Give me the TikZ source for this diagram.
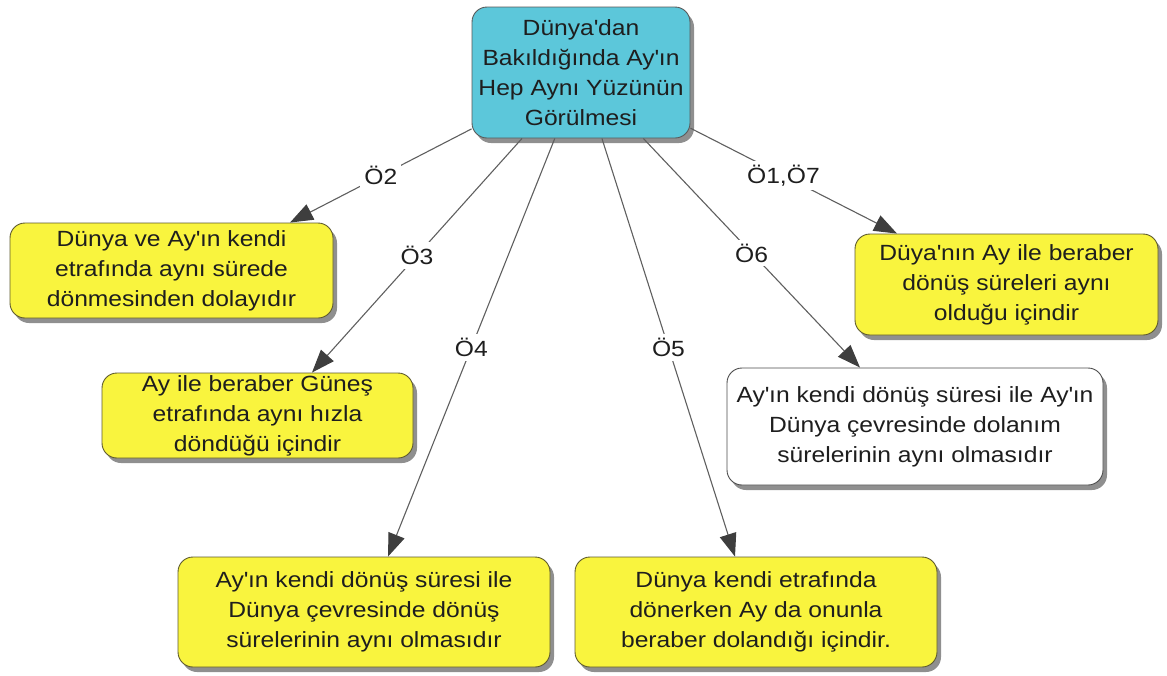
\documentclass[tikz,border=0pt]{standalone}
\usepackage{fontspec}
\setmainfont{Liberation Sans}[FakeStretch=1.12]
\usetikzlibrary{arrows.meta,shadows}
\definecolor{boxyellow}{HTML}{F9F43E}
\definecolor{boxcyan}{HTML}{5CC7DA}
\definecolor{edgeolive}{HTML}{5E5A2E}
\definecolor{linegray}{HTML}{5F5F5F}
\definecolor{tipgray}{HTML}{3E3E3E}
\definecolor{txt}{HTML}{1E1E1E}
\newcommand{\apo}{\textquotesingle}
\begin{document}
\begin{tikzpicture}[x=1pt,y=-1pt,
  every node/.style={font=\fontsize{22}{30}\selectfont, text=txt},
  card/.style={draw=edgeolive, line width=0.9pt, rounded corners=15pt,
    align=center, inner sep=0pt,
    drop shadow={shadow xshift=4pt, shadow yshift=-5pt, fill=black!55, opacity=0.8}},
  yellowcard/.style={card, fill=boxyellow},
  whitecard/.style={card, fill=white, draw=black!70},
  rootcard/.style={card, fill=boxcyan, draw=black!65},
  conn/.style={draw=linegray, line width=1.1pt,
    -{Triangle[length=23pt,width=17pt,fill=tipgray,color=tipgray]}},
  lbl/.style={fill=white, inner sep=4pt, pos=0.5}]
\useasboundingbox (0,0) rectangle (1167,675);

% central question
\node[rootcard, minimum width=218pt, minimum height=131pt] (root) at (581,72.5)
  {Dünya\apo dan\\Bakıldığında Ay\apo ın\\Hep Aynı Yüzünün\\Görülmesi};

% answer boxes
\node[yellowcard, minimum width=323pt, minimum height=95pt] (b2) at (171.5,270.5)
  {Dünya ve Ay\apo ın kendi\\etrafında aynı sürede\\dönmesinden dolayıdır};
\node[yellowcard, minimum width=311pt, minimum height=85pt] (b3) at (257.5,415.5)
  {Ay ile beraber Güneş\\etrafında aynı hızla\\döndüğü içindir};
\node[yellowcard, minimum width=372pt, minimum height=110pt] (b4) at (364,612)
  {Ay\apo ın kendi dönüş süresi ile\\Dünya çevresinde dönüş\\sürelerinin aynı olmasıdır};
\node[yellowcard, minimum width=362pt, minimum height=110pt] (b5) at (756,612)
  {Dünya kendi etrafında\\dönerken Ay da onunla\\beraber dolandığı içindir.};
\node[whitecard, minimum width=376pt, minimum height=117pt] (b6) at (915,426.5)
  {Ay\apo ın kendi dönüş süresi ile Ay\apo ın\\Dünya çevresinde dolanım\\sürelerinin aynı olmasıdır};
\node[yellowcard, minimum width=303pt, minimum height=101pt] (b17) at (1006.5,284.5)
  {Düya\apo nın Ay ile beraber\\dönüş süreleri aynı\\olduğu içindir};

% labelled connectors
\draw[conn] (root) -- node[lbl]{Ö2} ([xshift=118.5pt]b2.north);
\draw[conn] (root) -- node[lbl]{Ö3} ([xshift=54.5pt]b3.north);
\draw[conn] (root) -- node[lbl]{Ö4} ([xshift=24pt]b4.north);
\draw[conn] (root) -- node[lbl]{Ö5} ([xshift=-21pt]b5.north);
\draw[conn] (root) -- node[lbl]{Ö6} ([xshift=-55pt]b6.north);
\draw[conn] (root) -- node[lbl, pos=0.45]{Ö1,Ö7} ([xshift=-109.5pt]b17.north);
\end{tikzpicture}
\end{document}
